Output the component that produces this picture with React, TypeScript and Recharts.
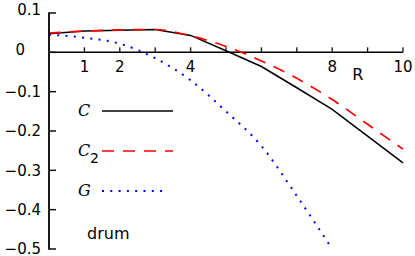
import React from 'react';
import { LineChart, Line, XAxis, YAxis, ReferenceLine } from 'recharts';

// ---- data ----
const rValues = [0, 1, 2, 3, 4, 5, 6, 7, 8, 9, 10];
const cValues = [0.047, 0.054, 0.056, 0.058, 0.043, 0.004, -0.036, -0.09, -0.145, -0.213, -0.281];
const c2Values = [0.049, 0.054, 0.057, 0.058, 0.042, 0.015, -0.022, -0.066, -0.12, -0.183, -0.246];
const gValues: (number | null)[] = [0.045, 0.037, 0.022, -0.015, -0.071, -0.15, -0.238, -0.365, -0.5, null, null];

const xTicks = [1, 2, 3, 4, 5, 6, 7, 8, 9, 10];
const xTickLabels: Record<number, string> = { 1: '1', 2: '2', 4: '4', 8: '8', 10: '10' };
const yTicks = [-0.5, -0.4, -0.3, -0.2, -0.1, 0, 0.1];
const yTickLabels = ['−0.5', '−0.4', '−0.3', '−0.2', '−0.1', '0', '0.1'];
const xAxisName = 'R';
const caption = 'drum';

const series = [
  { key: 'c', name: 'C', color: '#000000', dash: undefined as string | undefined, width: 1.5, type: 'linear' as const },
  { key: 'c2', name: 'C2', color: '#ff0000', dash: '12 9', width: 1.7, type: 'monotone' as const },
  { key: 'g', name: 'G', color: '#0000ff', dash: '2 6.3', width: 2, type: 'monotone' as const },
];

const data = rValues.map((r, i) => ({ r, c: cValues[i], c2: c2Values[i], g: gValues[i] }));

// ---- layout ----
const W = 415;
const H = 256;
const MARGIN = { top: 0, right: 12, bottom: 7, left: 0 };
const X_AXIS_H = 13;
const PLOT_TOP = MARGIN.top + X_AXIS_H;
const PLOT_BOTTOM = H - MARGIN.bottom;
const Y_AXIS_W = 49;
const Y_DOMAIN: [number, number] = [-0.5, 0.1];
const zeroY = PLOT_TOP + ((PLOT_BOTTOM - PLOT_TOP) * (Y_DOMAIN[1] - 0)) / (Y_DOMAIN[1] - Y_DOMAIN[0]);
const FONT = 'DejaVu Sans, sans-serif';

function YTick(props: any) {
  const { y, payload } = props;
  const v = payload.value as number;
  const yy = Number(y);
  const idx = yTicks.findIndex((t) => Math.abs(t - v) < 1e-9);
  const label = idx >= 0 ? yTickLabels[idx] : String(v);
  const isZero = Math.abs(v) < 1e-9;
  const isTop = Math.abs(v - Y_DOMAIN[1]) < 1e-9;
  const raise = v > -1e-9 ? -3 : 0;
  return (
    <g>
      {isTop && <rect x={Y_AXIS_W - 0.8} y={yy - 0.8} width={1.6} height={PLOT_BOTTOM - yy + 1.6} fill="#111111" />}
      <rect x={Y_AXIS_W} y={yy - 0.75} width={7} height={1.5} fill="#111111" />
      <text
        x={isZero ? Y_AXIS_W - 24 : Y_AXIS_W - 8}
        y={yy + raise}
        dy="0.36em"
        textAnchor="end"
        fontFamily={FONT}
        fontSize={15}
        fill="#000"
      >
        {label}
      </text>
    </g>
  );
}

function XTick(props: any) {
  const { x, payload } = props;
  const v = payload.value as number;
  const xx = Number(x);
  const label = xTickLabels[v];
  return (
    <g>
      <rect x={xx - 0.65} y={zeroY - 5} width={1.3} height={5} fill="#111111" />
      {label && (
        <text x={xx} y={zeroY + 20} textAnchor="middle" fontFamily={FONT} fontSize={15} fill="#000">
          {label}
        </text>
      )}
    </g>
  );
}

function RLabel(props: any) {
  const vb = props.viewBox || {};
  const x = (vb.x ?? 0) + (vb.width ?? 0) * 0.872;
  const y = (vb.y ?? zeroY) + 27.5;
  return (
    <text x={x} y={y} textAnchor="middle" fontFamily={FONT} fontSize={16} fill="#000">
      {xAxisName}
    </text>
  );
}

function LegendLayer() {
  return (
    <svg width={W} height={H} style={{ position: 'absolute', left: 0, top: 0, pointerEvents: 'none' }}>
      {series.map((s, i) => {
        const ly = 111 + 40 * i;
        return (
          <g key={s.key}>
            <text x={78} y={ly + 5} fontFamily="DejaVu Serif, serif" fontStyle="italic" fontSize={16} fill="#000">
              {s.name.charAt(0)}
            </text>
            {s.name.length > 1 && (
              <text x={90} y={ly + 12} fontFamily={FONT} fontSize={14} fill="#000">
                {s.name.slice(1)}
              </text>
            )}
            <line
              x1={102}
              x2={i === 2 ? 168 : 173}
              y1={ly}
              y2={ly}
              stroke={s.color}
              strokeWidth={s.width}
              strokeDasharray={s.dash}
            />
          </g>
        );
      })}
      <text x={87} y={239} fontFamily={FONT} fontSize={16} fill="#000">
        {caption}
      </text>
    </svg>
  );
}

export default function App() {
  return (
    <div style={{ position: 'absolute', left: 0, top: 0, width: W, height: H, background: '#fff' }}>
      <div style={{ position: 'absolute', left: 0, top: 0, width: W, height: H }}>
        <LineChart width={W} height={H} data={data} margin={MARGIN}>
          <XAxis
            type="number"
            dataKey="r"
            orientation="top"
            domain={[0, 10]}
            ticks={xTicks}
            interval={0}
            height={X_AXIS_H}
            stroke="#ffffff"
            tick={XTick}
          />
          <YAxis
            type="number"
            domain={Y_DOMAIN}
            ticks={yTicks}
            interval={0}
            width={Y_AXIS_W}
            stroke="#ffffff"
            axisLine={{ stroke: '#111111', strokeWidth: 1.6 }}
            tick={YTick}
          />
          <ReferenceLine y={0} stroke="#000" strokeWidth={1.5} label={RLabel} />
          {series.map((s) => (
            <Line
              key={s.key}
              dataKey={s.key}
              name={s.name}
              type={s.type}
              stroke={s.color}
              strokeWidth={s.width}
              strokeDasharray={s.dash}
              dot={false}
              activeDot={false}
              isAnimationActive={false}
            />
          ))}
        </LineChart>
      </div>
      <LegendLayer />
    </div>
  );
}
